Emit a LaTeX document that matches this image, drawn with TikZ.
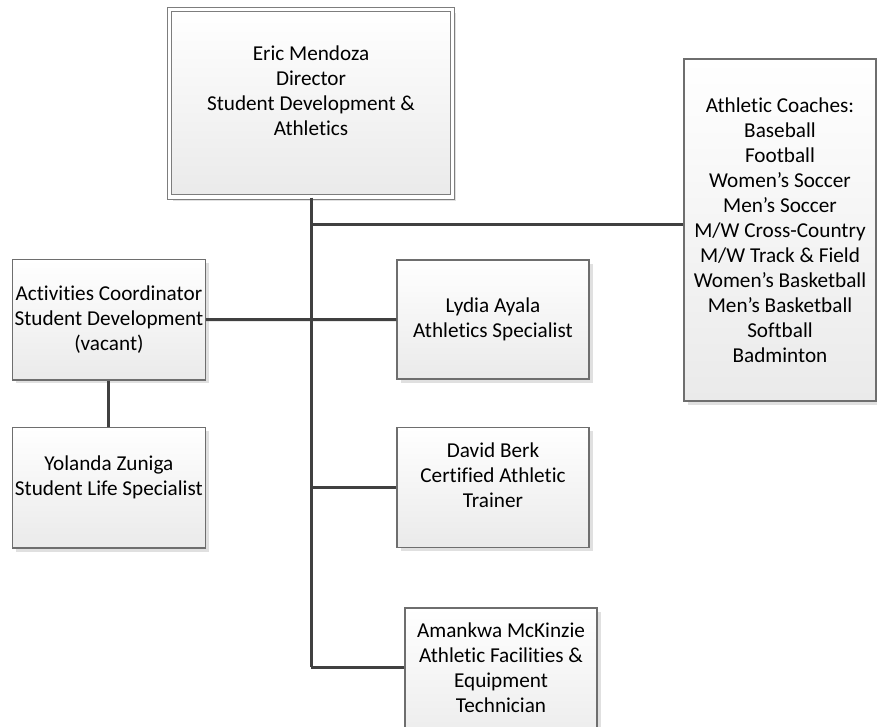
\documentclass[tikz,border=0pt]{standalone}
\usepackage{fontspec}
\setmainfont{Carlito}[Ligatures={NoCommon}]
\usetikzlibrary{shadows}
\definecolor{boxline}{HTML}{6E6E6E}
\definecolor{boxbot}{HTML}{EAEAEA}
\definecolor{connline}{HTML}{404040}
\begin{document}
\begin{tikzpicture}[x=1pt,y=-1pt,
  box/.style={rectangle, draw=boxline, line width=1.2pt, top color=white, bottom color=boxbot,
    align=center, inner sep=0pt, font=\fontsize{21.2}{25}\selectfont,
    drop shadow={shadow xshift=3.5pt, shadow yshift=-3.5pt, fill=black!12, opacity=1}},
  conn/.style={draw=connline, line width=3pt}]
\useasboundingbox (0,0) rectangle (877,727);
\fill[white] (0,0) rectangle (877,727);

% boxes
\node[box, draw=boxline!90, line width=1pt, double=white, double distance=3.5pt,
      minimum width=283pt, minimum height=187.5pt] (top) at (311,103.3)
  {Eric Mendoza\\Director\\Student Development \&\\Athletics\\\mbox{}};
\node[box, minimum width=192pt, minimum height=342pt] (coach) at (780,230)
  {Athletic Coaches:\\Baseball\\Football\\Women’s Soccer\\Men’s Soccer\\M/W Cross-Country\\M/W Track \& Field\\Women’s Basketball\\Men’s Basketball\\Softball\\Badminton};
\node[box, minimum width=192.5pt, minimum height=120.7pt] (act) at (108.9,319.6)
  {Activities Coordinator\\Student Development\\(vacant)};
\node[box, minimum width=192.5pt, minimum height=120.3pt] (yol) at (108.9,487.9)
  {Yolanda Zuniga\\Student Life Specialist\\\mbox{}};
\node[box, minimum width=192pt, minimum height=119pt] (lyd) at (493,319.5)
  {Lydia Ayala\\Athletics Specialist};
\node[box, minimum width=192pt, minimum height=120pt] (dav) at (493,487.5)
  {David Berk\\Certified Athletic\\Trainer\\\mbox{}};
\node[box, minimum width=192pt, minimum height=144pt] (ama) at (501,680)
  {Amankwa McKinzie\\Athletic Facilities \&\\Equipment\\Technician\\\mbox{}};

% connectors
\coordinate (jc) at (311,225);
\coordinate (ja) at (311,667);
\draw[conn] (top.south) -- (ja);
\draw[conn] (jc) -- (jc -| coach.west);
\draw[conn] (act.east) -- (lyd.west);
\draw[conn] (top.south |- dav.west) -- (dav.west);
\draw[conn] (ja) -- (ja -| ama.west);
\draw[conn] (act.south) -- (yol.north);
\end{tikzpicture}
\end{document}
